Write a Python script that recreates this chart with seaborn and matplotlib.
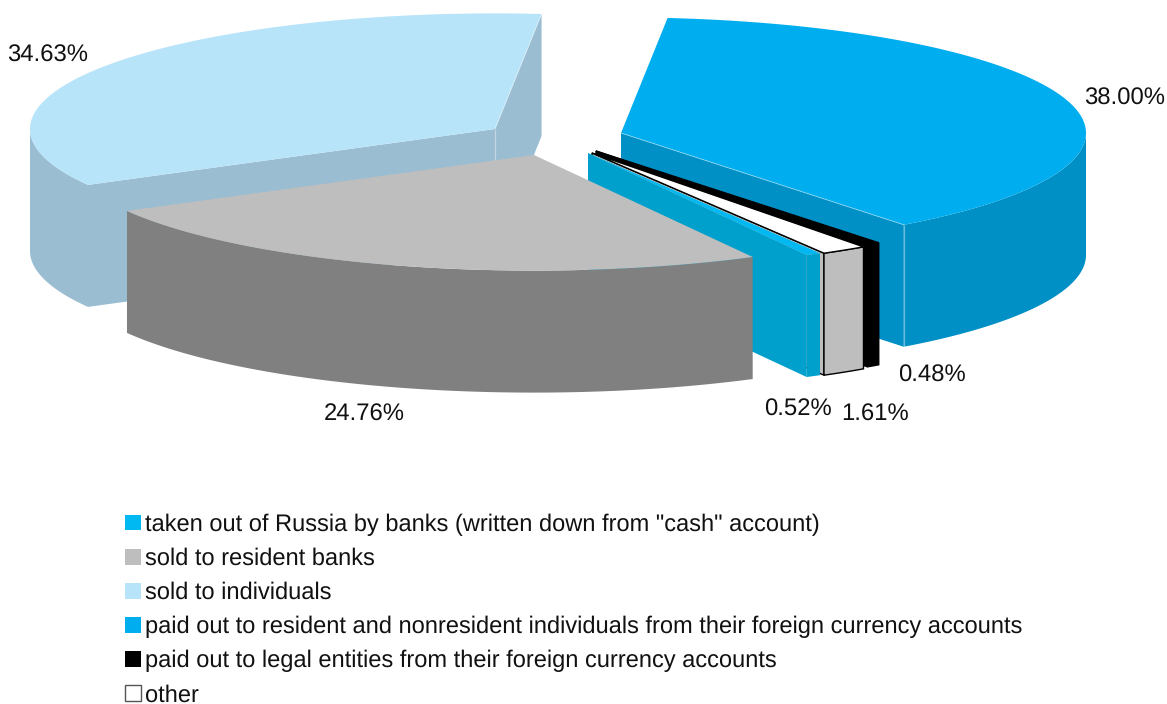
import numpy as np
import matplotlib
matplotlib.use("Agg")
import matplotlib.pyplot as plt
from matplotlib.patches import Patch
import seaborn as sns

categories = [
    'taken out of Russia by banks (written down from "cash" account)',
    "sold to resident banks",
    "sold to individuals",
    "paid out to resident and nonresident individuals from their foreign currency accounts",
    "paid out to legal entities from their foreign currency accounts",
    "other",
]
shares = [0.52, 24.76, 34.63, 38.00, 0.48, 1.61]

# clockwise order of the slices around the pie, as indices into categories
pie_order = [3, 4, 5, 0, 1, 2]
# back-to-front painting order
paint_order = [2, 3, 4, 5, 0, 1]

top_colors = ["#00B9F2", "#BEBEBE", "#B8E4FA", "#00AEEF", "#000000", "#FFFFFF"]
side_colors = ["#00A0CC", "#808080", "#9ABDD2", "#0090C6", "#000000", "#BEBEBE"]
legend_edges = ["none", "none", "none", "none", "none", "#555555"]

# slice apex on the canvas (exploded pie)
apexes = [(588, 153), (534, 155), (495, 129), (621, 133), (596, 151), (592, 153)]
label_pos = [(798, 410), (364, 415), (48, 56), (1125, 99), (932, 376), (875, 415)]

RX, RY, DEPTH = 465.0, 115.6, 122.0
START_ANGLE = 84.25

sns.set_theme(style="white", rc={"figure.dpi": 100, "savefig.dpi": 100})
plt.rcParams["font.family"] = ["Liberation Sans", "DejaVu Sans"]
plt.rcParams["text.hinting"] = "none"

fig = plt.figure(figsize=(11.67, 7.04), facecolor="white")
ax = fig.add_axes([0, 0, 1, 1])
ax.set_xlim(0, 1167)
ax.set_ylim(704, 0)
ax.axis("off")
sns.despine(ax=ax, left=True, bottom=True)


def rim_points(apex, a_from, a_to, drop=0.0):
    t = np.radians(np.linspace(a_from, a_to, 160))
    return np.column_stack([apex[0] + RX * np.cos(t), apex[1] - RY * np.sin(t) + drop])


def radial_point(apex, angle):
    t = np.radians(angle)
    return np.array([apex[0] + RX * np.cos(t), apex[1] - RY * np.sin(t)])


# angular span of every slice, walking clockwise from the start angle
spans = {}
angle = START_ANGLE
for idx in pie_order:
    sweep = shares[idx] / sum(shares) * 360
    spans[idx] = (angle, angle - sweep)
    angle -= sweep


def draw_wall(apex, angle, color, edge, lw):
    tip = radial_point(apex, angle)
    quad = np.array([apex, tip, tip + [0, DEPTH], np.array(apex) + [0, DEPTH]])
    ax.fill(quad[:, 0], quad[:, 1], facecolor=color, edgecolor=edge, lw=lw, zorder=1)


for order, idx in enumerate(paint_order):
    apex = apexes[idx]
    a0, a1 = spans[idx]
    top, side = top_colors[idx], side_colors[idx]
    edge = "black" if idx in (4, 5) else "none"
    lw = 1 if idx in (4, 5) else 0

    # radial walls that face the viewer (outward normal pointing forward)
    for wall_angle, normal in ((a0, a0 + 90), (a1, a1 - 90)):
        if np.sin(np.radians(normal)) < 0:
            draw_wall(apex, wall_angle, side, edge, lw)

    # outer rim: only the front half of the ellipse is visible
    if a1 < 0:
        front_from = min(a0, 0)
        front_to = max(a1, -180)
        upper = rim_points(apex, front_from, front_to)
        lower = rim_points(apex, front_to, front_from, DEPTH)
        poly = np.vstack([upper, lower])
        ax.fill(poly[:, 0], poly[:, 1], facecolor=side, edgecolor=edge, lw=lw, zorder=1)

    # top face
    poly = np.vstack([[apex], rim_points(apex, a0, a1)])
    ax.fill(poly[:, 0], poly[:, 1], facecolor=top, edgecolor=edge, lw=lw, zorder=1)

    # light seams where the faces of the two large back slices meet
    if idx in (2, 3):
        tip = radial_point(apex, a1)
        ax.fill([apex[0], tip[0]], [apex[1], tip[1]], edgecolor="white", lw=0.7, alpha=0.4,
                fill=False, zorder=1)
        ax.fill([tip[0], tip[0]], [tip[1], tip[1] + DEPTH], edgecolor="white", lw=0.9, alpha=0.4,
                fill=False, zorder=1)
        if idx == 2:
            ax.fill([apex[0], apex[0]], [apex[1], apex[1] + DEPTH], edgecolor="white", lw=0.9,
                    alpha=0.4, fill=False, zorder=1)

for value, (x, y) in zip(shares, label_pos):
    ax.text(x, y, f"{value:.2f}%", ha="center", va="center", fontsize=17.2, color="#111111")

handles = [Patch(facecolor=c, edgecolor=e, lw=1 if e != "none" else 0)
           for c, e in zip(top_colors, legend_edges)]
ax.legend(
    handles, categories, loc="upper left", bbox_to_anchor=(125 / 1167, 1 - 513.5 / 704),
    frameon=False, fontsize=17.03, borderpad=0, borderaxespad=0, labelspacing=0.495,
    handlelength=0.69, handleheight=0.65, handletextpad=0.17, labelcolor="#111111",
)

fig.savefig("out.png", dpi=100, facecolor="white")
